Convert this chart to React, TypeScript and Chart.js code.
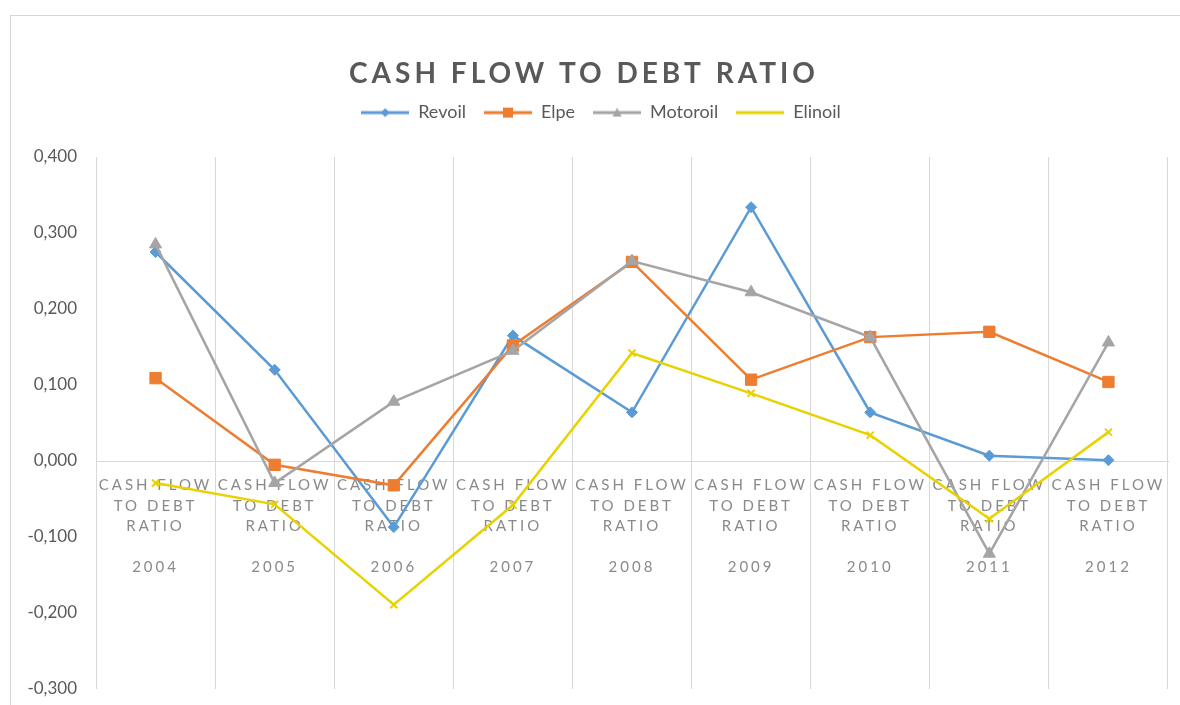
import React, { useEffect, useRef } from 'react';
import { Chart, registerables } from 'chart.js';

Chart.register(...registerables);

// ---- data ----
const years = ['2004', '2005', '2006', '2007', '2008', '2009', '2010', '2011', '2012'];
const labelLines = ['CASH FLOW', 'TO DEBT', 'RATIO', ''];
const revoil = [0.275, 0.12, -0.087, 0.165, 0.064, 0.334, 0.064, 0.007, 0.001];
const elpe = [0.109, -0.005, -0.032, 0.152, 0.262, 0.107, 0.163, 0.170, 0.104];
const motoroil = [0.285, -0.029, 0.078, 0.145, 0.263, 0.222, 0.163, -0.122, 0.156];
const elinoil = [-0.029, -0.057, -0.189, -0.058, 0.142, 0.089, 0.034, -0.076, 0.038];
const seriesNames = ['Revoil', 'Elpe', 'Motoroil', 'Elinoil'];
const seriesColors = ['#5B9BD5', '#ED7D31', '#A5A5A5', '#E8D200'];
const seriesMarkers = ['rectRot', 'rect', 'triangle', 'crossRot'];
const markerSizes = [5.5, 8, 7, 5];
const titleText = 'CASH FLOW TO DEBT RATIO';
const yMin = -0.3;
const yMax = 0.4;
const yStep = 0.1;

function makeIcon(color: string, marker: string): HTMLCanvasElement {
  const c = document.createElement('canvas');
  c.width = 48;
  c.height = 14;
  const g = c.getContext('2d')!;
  g.strokeStyle = color;
  g.lineWidth = 3;
  g.beginPath();
  g.moveTo(0, 7);
  g.lineTo(48, 7);
  g.stroke();
  g.fillStyle = color;
  g.beginPath();
  if (marker === 'rectRot') {
    g.moveTo(24, 2.5); g.lineTo(28.5, 7); g.lineTo(24, 11.5); g.lineTo(19.5, 7); g.closePath(); g.fill();
  } else if (marker === 'rect') {
    g.rect(19, 2, 10, 10); g.fill();
  } else if (marker === 'triangle') {
    g.moveTo(24, 2); g.lineTo(28.5, 11); g.lineTo(19.5, 11); g.closePath(); g.fill();
  }
  return c;
}

const decorPlugin = {
  id: 'decor',
  beforeDraw(chart: any) {
    const ctx = chart.ctx;
    ctx.save();
    ctx.fillStyle = '#ffffff';
    ctx.fillRect(0, 0, chart.width, chart.height);
    ctx.strokeStyle = '#d6d6d6';
    ctx.lineWidth = 1;
    ctx.strokeRect(10.5, 15.5, chart.width + 20, chart.height + 20);
    ctx.restore();
    const xs = chart.scales.x;
    if (xs && !xs.__spaced) {
      const orig = xs.drawLabels.bind(xs);
      xs.drawLabels = (ca: any) => {
        ctx.save();
        (ctx as any).letterSpacing = '3px';
        orig(ca);
        ctx.restore();
      };
      xs.__spaced = true;
    }
    const tb = chart.titleBlock;
    if (tb && !tb.__spaced) {
      const origT = tb.draw.bind(tb);
      tb.draw = (ca: any) => {
        ctx.save();
        (ctx as any).letterSpacing = '4px';
        origT(ca);
        ctx.restore();
      };
      tb.__spaced = true;
    }
    const lg = chart.legend;
    if (lg && !lg.__shifted) {
      const origL = lg.draw.bind(lg);
      lg.draw = (ca: any) => {
        ctx.save();
        ctx.translate(17, 0);
        origL(ca);
        ctx.restore();
      };
      lg.__shifted = true;
    }
  },
};

export default function App() {
  const ref = useRef<HTMLCanvasElement>(null);
  useEffect(() => {
    const icons = seriesColors.map((c, i) => makeIcon(c, seriesMarkers[i]));
    const allSeries = [revoil, elpe, motoroil, elinoil];
    const chart = new Chart(ref.current!, {
      type: 'line',
      data: {
        labels: years.map((y) => [...labelLines, y]),
        datasets: allSeries.map((d, i) => ({
          label: seriesNames[i],
          data: d,
          borderColor: seriesColors[i],
          backgroundColor: seriesColors[i],
          borderWidth: 2.5,
          tension: 0,
          fill: false,
          pointStyle: seriesMarkers[i] as any,
          pointRadius: markerSizes[i],
          pointBackgroundColor: seriesColors[i],
          pointBorderColor: seriesColors[i],
          pointBorderWidth: i === 3 ? 2 : 1,
          order: 4 - i,
        })),
      },
      options: {
        animation: false,
        responsive: true,
        maintainAspectRatio: false,
        events: [],
        layout: { padding: { left: 0, right: 12, top: 0, bottom: 16 } },
        plugins: {
          tooltip: { enabled: false },
          title: {
            display: true,
            text: titleText,
            color: '#595959',
            font: { family: 'Lato', size: 28, weight: 'bold', lineHeight: 1.2 },
            padding: { top: 57, bottom: -5 },
          },
          legend: {
            display: true,
            position: 'top',
            labels: {
              usePointStyle: true,
              pointStyleWidth: 48,
              color: '#595959',
              font: { family: 'Lato', size: 18 },
              padding: 18,
              generateLabels: (ch: any) =>
                ch.data.datasets.map((ds: any, i: number) => ({
                  text: ds.label,
                  fillStyle: seriesColors[i],
                  strokeStyle: seriesColors[i],
                  lineWidth: 0,
                  pointStyle: icons[i],
                  hidden: false,
                  datasetIndex: i,
                  fontColor: '#595959',
                })),
            },
          },
          subtitle: {
            display: true,
            text: '',
            weight: 500,
            font: { size: 10, lineHeight: 1 },
            padding: { top: 15.4, bottom: 0 },
          } as any,
        },
        scales: {
          x: {
            type: 'category',
            position: { y: 0 } as any,
            offset: true,
            grid: { display: true, color: '#d9d9d9', lineWidth: 1, drawTicks: false, offset: true },
            border: { display: true, color: '#d9d9d9', width: 1 },
            ticks: {
              autoSkip: false,
              maxRotation: 0,
              minRotation: 0,
              padding: 14,
              color: '#8a8a8a',
              font: { family: 'Lato', size: 15, lineHeight: 20.5 / 15 },
            },
          },
          y: {
            type: 'linear',
            min: yMin,
            max: yMax,
            grid: { display: false, drawTicks: true, tickLength: 19 },
            border: { display: false },
            ticks: {
              stepSize: yStep,
              padding: 0,
              color: '#595959',
              font: { family: 'Lato', size: 17 },
              callback: (v: any) => Number(v).toFixed(3).replace('.', ','),
            },
            afterFit: (scale: any) => {
              scale.width = 96;
            },
          },
        },
      },
      plugins: [decorPlugin],
    } as any);
    return () => chart.destroy();
  }, []);
  return (
    <div style={{ position: 'fixed', left: 0, top: 0, width: 1180, height: 705, background: '#fff' }}>
      <canvas ref={ref} />
    </div>
  );
}
